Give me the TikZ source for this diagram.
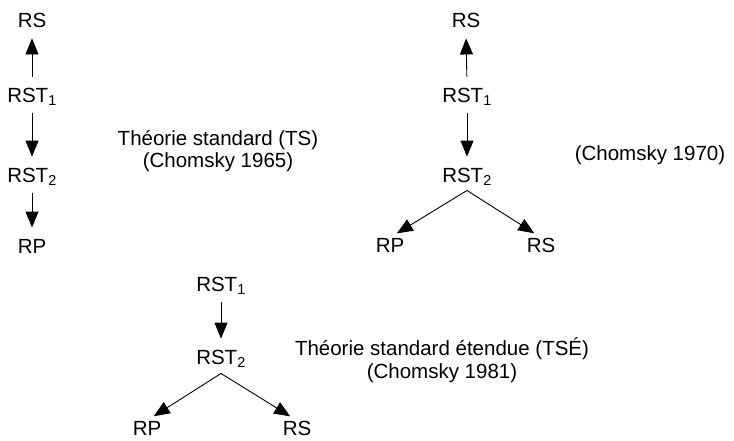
\documentclass[tikz,border=0pt]{standalone}
\usepackage{fontspec}
\setmainfont{Liberation Sans}
\usetikzlibrary{arrows.meta}
\begin{document}
\begin{tikzpicture}[x=1pt,y=-1pt,
  lbl/.style={inner sep=0pt, text height=14.5pt, text depth=0pt, font=\fontsize{20.5}{24}\selectfont},
  note/.style={inner sep=0pt, align=center, font=\fontsize{20.5}{22.5}\selectfont},
  tip/.style={-{Triangle[width=13pt,length=16pt]}},
  arr/.style={tip, line width=0.9pt, shorten <=11pt, shorten >=11pt},
  fork/.style={tip, line width=0.9pt, shorten >=8pt},
]
\useasboundingbox (0,0) rectangle (734,440);

% Standard theory (1965)
\node[lbl] (a-rs) at (32,20)  {RS};
\node[lbl] (a-t1) at (32,95)  {RST\textsubscript{1}};
\node[lbl] (a-t2) at (32,175) {RST\textsubscript{2}};
\node[lbl] (a-rp) at (32,246) {RP};
\draw[arr] (a-t1.north) -- (a-rs.south);
\draw[arr] (a-t1.south) -- (a-t2.north);
\draw[arr] (a-t2.south) -- (a-rp.north);
\node[note] (a-note) at (218,151) {Théorie standard (TS)\\(Chomsky 1965)};

% Model of 1970
\node[lbl] (b-rs)  at (466,20)  {RS};
\node[lbl] (b-t1)  at (467,95)  {RST\textsubscript{1}};
\node[lbl] (b-t2)  at (467,175) {RST\textsubscript{2}};
\node[lbl] (b-rp)  at (390,245) {RP};
\node[lbl] (b-rs2) at (541,245) {RS};
\draw[arr] (b-t1.north) -- (b-rs.south);
\draw[arr] (b-t1.south) -- (b-t2.north);
\coordinate (b-fork) at ([yshift=-8pt]b-t2.south);
\draw[fork] (b-fork) -- (b-rp.north);
\draw[fork] (b-fork) -- (b-rs2.north);
\node[note] (b-note) at (650,155) {(Chomsky 1970)};

% Extended standard theory (1981)
\node[lbl] (c-t1) at (221,284) {RST\textsubscript{1}};
\node[lbl] (c-t2) at (221,357) {RST\textsubscript{2}};
\node[lbl] (c-rp) at (147,428) {RP};
\node[lbl] (c-rs) at (297,428) {RS};
\draw[arr] (c-t1.south) -- (c-t2.north);
\coordinate (c-fork) at ([yshift=-9pt]c-t2.south);
\draw[fork] (c-fork) -- (c-rp.north);
\draw[fork] (c-fork) -- (c-rs.north);
\node[note] (c-note) at (442,360) {Théorie standard étendue (TSÉ)\\(Chomsky 1981)};
\end{tikzpicture}
\end{document}
